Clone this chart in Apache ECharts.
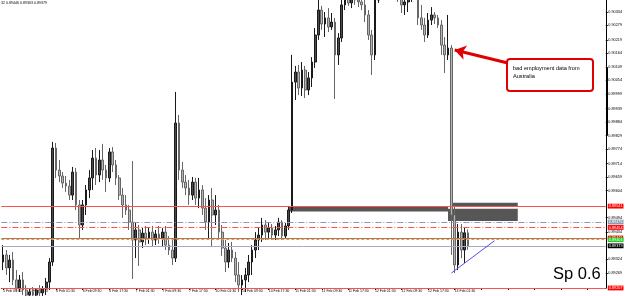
<!DOCTYPE html>
<html><head><meta charset="utf-8">
<script src="https://cdn.jsdelivr.net/npm/echarts@6/dist/echarts.min.js"></script>
<style>html,body{margin:0;padding:0;background:#fff}#c{width:625px;height:296px}</style>
</head><body><div id="c"></div>
<script>
// ---- data (AUDUSD, hourly candles) ----
const timeLabels = ['5 Feb 09:30','5 Feb 17:30','6 Feb 01:30','6 Feb 09:30','6 Feb 17:30','7 Feb 01:30','7 Feb 09:30','7 Feb 17:30','10 Feb 01:30','10 Feb 09:30','10 Feb 17:30','11 Feb 01:30','11 Feb 09:30','11 Feb 17:30','12 Feb 01:30','12 Feb 09:30','12 Feb 17:30','13 Feb 01:30'];
const barsPerLabel = 8;
const slotCount = 182;
const opens = [0.89313,0.89342,0.89289,0.89321,0.89240,0.89207,0.89240,0.89199,0.89178,0.89191,
0.89178,0.89199,0.89187,0.89203,0.89231,0.89313,0.89778,0.89688,0.89664,0.89635,
0.89623,0.89586,0.89680,0.89546,0.89464,0.89546,0.89607,0.89656,0.89737,0.89668,
0.89729,0.89688,0.89656,0.89762,0.89709,0.89656,0.89586,0.89546,0.89525,0.89476,
0.89403,0.89444,0.89395,0.89431,0.89411,0.89435,0.89403,0.89427,0.89411,0.89435,
0.89382,0.89362,0.89329,0.89880,0.89688,0.89639,0.89615,0.89586,0.89639,0.89574,
0.89607,0.89533,0.89476,0.89566,0.89505,0.89525,0.89435,0.89370,0.89313,0.89362,
0.89329,0.89260,0.89219,0.89240,0.89260,0.89313,0.89362,0.89403,0.89423,0.89464,
0.89435,0.89452,0.89423,0.89444,0.89476,0.89419,0.89460,0.89525,0.90047,0.90088,
0.90023,0.90096,0.90015,0.90064,0.90129,0.90239,0.90341,0.90284,0.90309,0.90272,
0.90292,0.90158,0.90227,0.90362,0.90390,0.90370,0.90394,0.90382,0.90374,0.90362,
0.90321,0.90239,0.90158,0.90382,0.90415,0.90431,0.90415,0.90423,0.90443,0.90406,
0.90394,0.90362,0.90374,0.90390,0.90406,0.90415,0.90309,0.90280,0.90239,0.90300,
0.90321,0.90309,0.90280,0.90198,0.90158,0.90186,0.89505,0.89301,0.89435,0.89362,
0.89432];
const highs = [0.89382,0.89362,0.89342,0.89354,0.89280,0.89260,0.89272,0.89219,0.89207,0.89211,
0.89207,0.89219,0.89215,0.89248,0.89329,0.89803,0.89799,0.89729,0.89680,0.89664,
0.89648,0.89701,0.89697,0.89566,0.89566,0.89627,0.89688,0.89770,0.89778,0.89770,
0.89795,0.89709,0.89778,0.89782,0.89729,0.89668,0.89615,0.89586,0.89546,0.89725,
0.89476,0.89464,0.89452,0.89460,0.89452,0.89460,0.89444,0.89460,0.89452,0.89460,
0.89419,0.89403,0.90007,0.89913,0.89721,0.89668,0.89648,0.89660,0.89656,0.89656,
0.89627,0.89574,0.89586,0.89615,0.89586,0.89546,0.89464,0.89403,0.89391,0.89395,
0.89354,0.89313,0.89260,0.89289,0.89342,0.89382,0.89435,0.89452,0.89493,0.89484,
0.89476,0.89468,0.89460,0.89493,0.89484,0.89472,0.89542,0.90158,0.90113,0.90117,
0.90129,0.90113,0.90088,0.90149,0.90268,0.90390,0.90358,0.90333,0.90349,0.90329,
0.90309,0.90247,0.90402,0.90415,0.90423,0.90415,0.90423,0.90415,0.90406,0.90382,
0.90341,0.90260,0.90402,0.90443,0.90464,0.90464,0.90455,0.90472,0.90472,0.90443,
0.90423,0.90402,0.90402,0.90431,0.90443,0.90423,0.90362,0.90309,0.90329,0.90353,
0.90333,0.90321,0.90300,0.90231,0.90321,0.90198,0.89546,0.89468,0.89468,0.89452,
0.89446];
const lows = [0.89280,0.89260,0.89231,0.89219,0.89191,0.89191,0.89178,0.89166,0.89158,0.89166,
0.89158,0.89170,0.89158,0.89178,0.89199,0.89297,0.89656,0.89639,0.89615,0.89599,
0.89566,0.89566,0.89525,0.89411,0.89444,0.89505,0.89574,0.89607,0.89627,0.89639,
0.89648,0.89599,0.89639,0.89680,0.89627,0.89566,0.89493,0.89505,0.89444,0.89244,
0.89329,0.89297,0.89370,0.89382,0.89387,0.89378,0.89382,0.89387,0.89374,0.89362,
0.89342,0.89301,0.89313,0.89648,0.89615,0.89586,0.89546,0.89566,0.89546,0.89533,
0.89505,0.89444,0.89411,0.89378,0.89464,0.89403,0.89338,0.89272,0.89289,0.89313,
0.89231,0.89191,0.89178,0.89191,0.89231,0.89260,0.89329,0.89362,0.89395,0.89403,
0.89411,0.89403,0.89403,0.89419,0.89403,0.89411,0.89444,0.89513,0.89974,0.89994,
0.89990,0.89982,0.89994,0.90027,0.90105,0.90219,0.90260,0.90231,0.90251,0.90260,
0.89978,0.90117,0.90211,0.90341,0.90358,0.90349,0.90362,0.90353,0.90341,0.90292,
0.90219,0.90076,0.90137,0.90370,0.90394,0.90390,0.90386,0.90398,0.90394,0.90374,
0.90329,0.90321,0.90333,0.90374,0.90390,0.90280,0.90260,0.90211,0.90227,0.90280,
0.90284,0.90268,0.90158,0.90084,0.90137,0.89342,0.89268,0.89280,0.89329,0.89309,
0.89363];
const closes = [0.89342,0.89289,0.89321,0.89240,0.89207,0.89240,0.89199,0.89178,0.89191,0.89178,
0.89199,0.89187,0.89203,0.89231,0.89313,0.89778,0.89688,0.89664,0.89635,0.89623,
0.89586,0.89680,0.89546,0.89464,0.89546,0.89607,0.89656,0.89737,0.89668,0.89729,
0.89688,0.89656,0.89762,0.89709,0.89656,0.89586,0.89546,0.89525,0.89476,0.89403,
0.89444,0.89395,0.89431,0.89411,0.89435,0.89403,0.89427,0.89411,0.89435,0.89382,
0.89362,0.89329,0.89880,0.89688,0.89639,0.89615,0.89586,0.89639,0.89574,0.89607,
0.89533,0.89476,0.89566,0.89505,0.89525,0.89435,0.89370,0.89313,0.89362,0.89329,
0.89260,0.89219,0.89240,0.89260,0.89313,0.89362,0.89403,0.89423,0.89464,0.89435,
0.89452,0.89423,0.89444,0.89476,0.89419,0.89460,0.89525,0.90047,0.90088,0.90023,
0.90096,0.90015,0.90064,0.90129,0.90239,0.90341,0.90284,0.90309,0.90272,0.90292,
0.90158,0.90227,0.90362,0.90390,0.90370,0.90394,0.90382,0.90374,0.90362,0.90321,
0.90239,0.90158,0.90382,0.90415,0.90431,0.90415,0.90423,0.90443,0.90406,0.90394,
0.90362,0.90374,0.90390,0.90406,0.90415,0.90309,0.90280,0.90239,0.90300,0.90321,
0.90309,0.90280,0.90198,0.90158,0.90186,0.89505,0.89301,0.89435,0.89362,0.89432,
0.89379];
const priceTicks = [0.90334,0.90279,0.90219,0.90164,0.90109,0.90054,0.89999,0.89939,0.89884,0.89829,0.89774,0.89714,0.89659,0.89604,0.89494,0.89434,0.89324,0.89269];
const yMin = 0.89207, yMax = 0.90382;
// horizontal levels drawn on the chart
const levelValues = [0.89541, 0.89476, 0.89454, 0.89411, 0.89404, 0.89379, 0.89207];
// zones: [startIndex, endIndex, top, bottom]
const zones = [[86, 134, 0.89539, 0.89519], [135, 155, 0.89555, 0.89542], [134, 155, 0.89530, 0.89480]];
// trend line: [index, price] pairs
const trendLine = [[135, 0.89268], [148, 0.89400]];
const arrowLine = [[152, 0.90125], [136, 0.90178]];
const headerText = '32 0.89446 0.89363 0.89379';
const noteText = 'bad employment data from\nAustralia';
const spreadText = 'Sp 0.6';

// ---- build ----
const categories = Array.from({length: slotCount}, (_, i) => String(i));
const candles = opens.map((o, i) => [o, closes[i], lows[i], highs[i]]);

const levelStyles = [
  {color:'#ff5050', type:'solid', bg:'#ff0000', fg:'#fff'},
  {color:'#8a9bb0', type:[6,2,1,2], bg:'#8a9bb0', fg:'#fff'},
  {color:'#ff5050', type:[6,2,1,2], bg:'#ff0000', fg:'#fff'},
  {color:'#ff5050', type:'solid', bg:'#ff0000', fg:'#fff'},
  {color:'#5fdc5f', type:[3,2], bg:'#22cc22', fg:'#fff'},
  {color:'#a4adbd', type:'solid', bg:'#000000', fg:'#fff'},
  {color:'#ff5050', type:'solid', bg:'#ff0000', fg:'#fff'}
];
const FONT = 'Liberation Sans';
const levelLines = levelValues.map((v, k) => ({
  yAxis: v,
  lineStyle: {color: levelStyles[k].color, type: levelStyles[k].type, width: 1},
  label: {show: true, position: 'end', distance: 2, formatter: v.toFixed(5),
    backgroundColor: levelStyles[k].bg, color: levelStyles[k].fg,
    fontSize: 3.8, fontFamily: FONT, padding: [0.6, 1, 0.2, 1]}
}));

const chart = echarts.init(document.getElementById('c'), null, {renderer: 'canvas'});
chart.setOption({
  animation: false,
  backgroundColor: '#ffffff',
  grid: {left: 0, right: 18, top: 0, bottom: 8},
  xAxis: {
    type: 'category', data: categories, boundaryGap: true,
    axisLine: {lineStyle: {color: '#000', width: 1}},
    axisTick: {show: true, interval: barsPerLabel - 1, alignWithLabel: true, length: 2, lineStyle: {color: '#000'}},
    axisLabel: {interval: barsPerLabel - 1, fontSize: 3.5, fontFamily: FONT, color: '#000', align: 'left', margin: 1.5,
      formatter: (val, idx) => (idx % barsPerLabel === 0 && timeLabels[idx / barsPerLabel]) ? timeLabels[idx / barsPerLabel] : ''},
    splitLine: {show: false}
  },
  yAxis: {
    type: 'value', position: 'right', min: yMin, max: yMax, scale: true,
    axisLine: {show: true, lineStyle: {color: '#000', width: 1}},
    axisTick: {show: true, length: 2, customValues: priceTicks, lineStyle: {color: '#000'}},
    axisLabel: {show: true, customValues: priceTicks, fontSize: 3.8, fontFamily: FONT, color: '#000', margin: 2.5,
      formatter: v => v.toFixed(5)},
    splitLine: {show: false}
  },
  series: [{
    type: 'candlestick', data: candles, clip: true, barWidth: 2.2,
    itemStyle: {color: '#4a4a4a', color0: '#b4b4b4', borderColor: '#1a1a1a', borderColor0: '#666666', borderWidth: 1},
    markArea: {
      silent: true, z: 1,
      itemStyle: {color: '#565656'},
      data: zones.map(z => [{xAxis: z[0], yAxis: z[2]}, {xAxis: z[1], yAxis: z[3]}])
    },
    markLine: {
      silent: true, symbol: 'none', animation: false, precision: 5,
      data: levelLines.concat([
        [{coord: trendLine[0], lineStyle: {color: '#5050e8', width: 1, type: 'solid'}, label: {show: false}},
         {coord: trendLine[1]}],
        [{coord: arrowLine[0], symbol: 'none', lineStyle: {color: '#e00000', width: 3, type: 'solid'}, label: {show: false}},
         {coord: arrowLine[1], symbol: 'arrow', symbolSize: [11, 11]}]
      ])
    }
  }],
  graphic: [
    {type: 'text', left: 1, top: 1, style: {text: headerText, font: '3.6px "Liberation Sans"', fill: '#000'}},
    {type: 'rect', shape: {x: 606, y: 68, width: 2, height: 67}, style: {fill: '#000'}},
    {type: 'group', z: 100, children: [
      {type: 'rect', shape: {x: 507, y: 59, width: 86, height: 32, r: 3}, style: {fill: '#fff', stroke: '#e00000', lineWidth: 2}},
      {type: 'text', x: 513, y: 64, style: {text: noteText, font: '5.6px "Liberation Sans"', fill: '#000', lineHeight: 8}}
    ]},
    {type: 'text', x: 553, y: 266, z: 100, style: {text: spreadText, font: '16.5px "Liberation Sans"', fill: '#000'}}
  ]
});
</script></body></html>
